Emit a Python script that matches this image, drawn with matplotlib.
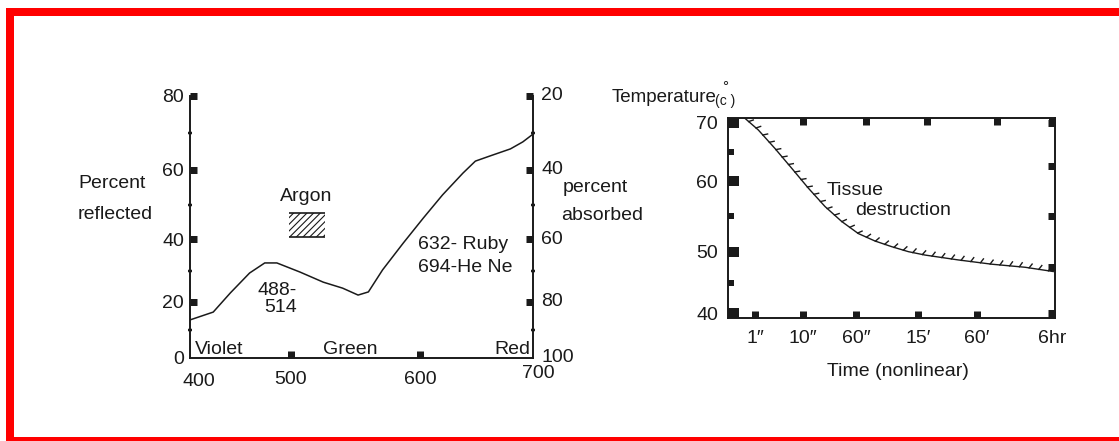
import numpy as np
import matplotlib
matplotlib.use('Agg')
import matplotlib.pyplot as plt
from matplotlib import patheffects, font_manager
from matplotlib.patches import Rectangle

# ---------------- data
wavelength = [400, 423, 440, 459, 474, 486, 507, 525, 540, 552, 560, 571, 587, 603, 620, 638, 649, 662, 680, 691, 700]
reflected = [13.6, 16.4, 22.9, 29.2, 32.4, 32.4, 29.5, 26.3, 24.4, 22.2, 23.2, 30.2, 38.7, 46.1, 52.8, 59.1, 62.4, 63.8, 65.7, 67.6, 69.7]
argon_band = [498, 526]
argon_level = [40.6, 47.5]
refl_ticks = [0, 20, 40, 60, 80]
refl_minor = [10, 30, 50, 70]
absorbed_labels = [20, 40, 60, 80, 100]
wl_ticks = [500, 600]

# time in seconds (axis is nonlinear)
time_s = [0.63, 1.62, 4.75, 7.88, 15.0, 30.8, 46.5, 91, 317, 544, 769, 1220, 2744, 7128, 15120, 21900]
temp_c = [70.8, 68.8, 65.6, 62.2, 59.0, 56.4, 54.3, 52.6, 51.55, 50.75, 50.05, 49.5, 48.7, 48.0, 47.5, 46.8]
time_ticks = [1, 10, 60, 900, 3600, 21600]
time_labels = ['1\u2033', '10\u2033', '60\u2033', '15\u2032', '60\u2032', '6hr']
time_top = [10.4, 195, 1310, 8400, 21600]
temp_ticks = [40, 50, 60, 70]
temp_minor = [45, 55, 65]
temp_right = [40, 47.5, 55, 62.5, 70]

# ---------------- the hand drawn axes are not linear: piecewise scales
LX_VAL, LX_PIX = [400, 500, 600, 700], [0, 101, 230, 343]
LY_VAL, LY_PIX = [0, 20, 40, 60, 80], [0, 56, 119, 188, 262]
RX_VAL, RX_PIX = [0, 1, 10, 60, 900, 3600, 21600], [0, 27, 75, 128, 190, 249, 324]
RY_VAL, RY_PIX = [40, 50, 60, 70], [5, 66, 137, 195]


def extrap(v, xs, ys):
    v = np.asarray(v, float)
    xs = np.asarray(xs, float)
    ys = np.asarray(ys, float)
    out = np.interp(v, xs, ys)
    lo = (ys[1] - ys[0]) / (xs[1] - xs[0])
    hi = (ys[-1] - ys[-2]) / (xs[-1] - xs[-2])
    out = np.where(v < xs[0], ys[0] + (v - xs[0]) * lo, out)
    out = np.where(v > xs[-1], ys[-1] + (v - xs[-1]) * hi, out)
    return out


def piecewise(vals, pix):
    return (lambda v: extrap(v, vals, pix)), (lambda p: extrap(p, pix, vals))


W, H = 1119, 441
INK = '#1a1a1a'
names = {f.name for f in font_manager.fontManager.ttflist}
if 'Liberation Sans Narrow' in names:
    NUM_FONT, NUM_SIZE = 'Liberation Sans Narrow', 15
else:
    NUM_FONT, NUM_SIZE = 'Liberation Sans', 14
WORD_FONT = 'Liberation Sans'
plt.rcParams['font.family'] = [NUM_FONT, 'DejaVu Sans']
plt.rcParams['hatch.linewidth'] = 0.8
plt.rcParams['hatch.color'] = INK


def px(n):
    return n * 0.72


def frect(x0, y0, x1, y1):
    return [x0 / W, 1 - y1 / H, (x1 - x0) / W, (y1 - y0) / H]


def ftext(x, y, s, **kw):
    kw.setdefault('fontsize', 14)
    kw.setdefault('family', WORD_FONT)
    kw.setdefault('color', INK)
    kw.setdefault('va', 'center')
    fig.text(x / W, 1 - y / H, s, **kw)


fig = plt.figure(figsize=(W / 100, H / 100), dpi=100)

# red frame
for r in [(6, 8, 1119, 16), (6, 8, 14, 441), (6, 437, 1119, 441)]:
    x, y, w, h = frect(*r)
    fig.patches.append(Rectangle((x, y), w, h, transform=fig.transFigure, color='red', lw=0))

############### left chart: reflectance
ax1 = fig.add_axes(frect(190, 96, 533, 358))
ax1.set_xscale('function', functions=piecewise(LX_VAL, LX_PIX))
ax1.set_yscale('function', functions=piecewise(LY_VAL, LY_PIX))
ax1.set_xlim(400, 700)
ax1.set_ylim(0, 80)
ax1.patch.set_alpha(0)

ax1.plot(wavelength, reflected, color=INK, lw=1.1)
ax1.fill_between(argon_band, argon_level[0], argon_level[1], facecolor='none', edgecolor=INK, hatch='/////', lw=0)
ax1.hlines(argon_level, argon_band[0], argon_band[1], color=INK, lw=1.2)

for s in ['left', 'right', 'bottom']:
    ax1.spines[s].set_linewidth(1.4)
    ax1.spines[s].set_color(INK)
ax1.spines['top'].set_visible(False)

ax1.set_yticks(refl_ticks)
ax1.set_yticks(refl_minor, minor=True)
ax1.tick_params(axis='y', which='major', direction='in', length=px(7), width=px(7), left=True, right=True,
                labelsize=NUM_SIZE, pad=px(6), colors=INK)
ax1.tick_params(axis='y', which='minor', direction='inout', length=px(4), width=px(2.5), left=True, right=True, colors=INK)
# no square at the 0 / 100 corner
for loc, t in zip(refl_ticks, ax1.yaxis.get_major_ticks(len(refl_ticks))):
    if loc == 0:
        t.tick1line.set_visible(False)
        t.tick2line.set_visible(False)
ax1.set_xticks(wl_ticks)
ax1.set_xticks([], minor=True)
ax1.tick_params(axis='x', which='major', direction='in', length=px(7), width=px(7), labelsize=NUM_SIZE, pad=px(13), colors=INK)

for a in absorbed_labels:
    ax1.annotate(str(a), xy=(1, 100 - a), xycoords=ax1.get_yaxis_transform(), xytext=(8, 0),
                 textcoords='offset pixels', ha='left', va='center', fontsize=NUM_SIZE, color=INK)
ax1.annotate('400', xy=(400, 0), xytext=(9, -23), textcoords='offset pixels', ha='center', va='center', fontsize=NUM_SIZE, color=INK)
ax1.annotate('700', xy=(700, 0), xytext=(5, -15), textcoords='offset pixels', ha='center', va='center', fontsize=NUM_SIZE, color=INK)

word = dict(family=WORD_FONT, fontsize=14, color=INK, va='center')
ax1.text(405, 2.9, 'Violet', ha='left', **word)
ax1.text(545.7, 2.9, 'Green', ha='center', **word)
ax1.text(697.3, 2.9, 'Red', ha='right', **word)
ax1.text(511.6, 52.2, 'Argon', ha='center', **word)
ax1.text(504.7, 21, '488-\n514', ha='right', multialignment='right', linespacing=0.95, **word)
ax1.text(598.4, 34.6, '632- Ruby\n694-He Ne', ha='left', linespacing=1.45, **word)

ftext(78, 184, 'Percent')
ftext(78, 215, 'reflected')
ftext(563, 188, 'percent')
ftext(561, 216, 'absorbed')

############### right chart: temperature vs time
ax2 = fig.add_axes(frect(728, 118, 1055, 318))
xf = piecewise(RX_VAL, RX_PIX)
yf = piecewise(RY_VAL, RY_PIX)
xlim = (0, float(xf[1](327)))
ylim = (float(yf[1](0)), float(yf[1](200)))
ax2.set_xscale('function', functions=xf)
ax2.set_yscale('function', functions=yf)
ax2.set_xlim(*xlim)
ax2.set_ylim(*ylim)

ax2.plot(time_s, temp_c, color=INK, lw=1.0,
         path_effects=[patheffects.withTickedStroke(spacing=7, angle=60, length=0.5)])

for s in ax2.spines.values():
    s.set_linewidth(1.4)
    s.set_color(INK)

ax2.set_yticks(temp_ticks)
ax2.set_yticks(temp_minor, minor=True)
ax2.tick_params(axis='y', which='major', direction='in', length=px(11), width=px(10), labelsize=NUM_SIZE, pad=px(10), colors=INK)
ax2.tick_params(axis='y', which='minor', direction='in', length=px(6), width=px(6), colors=INK)
ax2.set_xticks(time_ticks, time_labels)
ax2.set_xticks([], minor=True)
ax2.tick_params(axis='x', which='major', direction='in', length=px(7), width=px(7), labelsize=NUM_SIZE, pad=px(12), colors=INK)

ax2r = ax2.twinx()
ax2r.set_yscale('function', functions=yf)
ax2r.set_ylim(*ylim)
ax2r.set_yticks(temp_right, [''] * len(temp_right))
ax2r.set_yticks([], minor=True)
ax2r.tick_params(axis='y', direction='in', length=px(7), width=px(7), colors=INK)

ax2t = ax2.twiny()
ax2t.set_xscale('function', functions=xf)
ax2t.set_xlim(*xlim)
ax2t.set_xticks(time_top, [''] * len(time_top))
ax2t.set_xticks([], minor=True)
ax2t.tick_params(axis='x', direction='in', length=px(7), width=px(7), colors=INK)
for tw in (ax2r, ax2t):
    for s in tw.spines.values():
        s.set_visible(False)

ax2.text(32.6, 58.7, 'Tissue', ha='left', **word)
ax2.text(59, 55.9, 'destruction', ha='left', **word)

ftext(612, 97, 'Temperature', fontsize=13.5)
ftext(715, 101, '(c )', fontsize=10)
ftext(722, 87, '\u00b0', fontsize=11)
ftext(898, 372, 'Time (nonlinear)', ha='center')

fig.savefig('out.png', dpi=100)
